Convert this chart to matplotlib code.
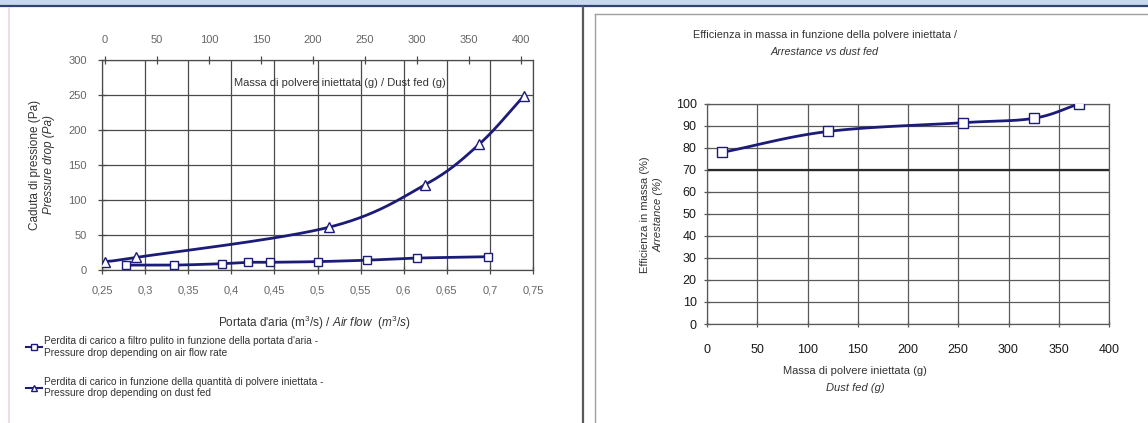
import numpy as np
import matplotlib
matplotlib.use("Agg")
import matplotlib.pyplot as plt
from matplotlib.lines import Line2D
from matplotlib.patches import Rectangle

plt.rcParams['font.family'] = ['Liberation Sans', 'DejaVu Sans']
plt.rcParams['mathtext.fontset'] = 'custom'
plt.rcParams['mathtext.rm'] = 'Liberation Sans'
plt.rcParams['mathtext.it'] = 'Liberation Sans:italic'

# ---------------- data ----------------
airflow = [0.278, 0.334, 0.389, 0.419, 0.445, 0.501, 0.557, 0.615, 0.698]
dp_clean = [7, 7, 9, 11, 11, 12, 14, 17, 19]
dust_fed_left = [0, 30, 215, 308, 360, 403]
dp_dust = [12, 18, 61, 122, 180, 249]
dust_fed_right = [15, 120, 255, 325, 370]
arrestance = [78, 87.5, 91.5, 93.5, 100]

airflow_ticks = [0.25, 0.3, 0.35, 0.4, 0.45, 0.5, 0.55, 0.6, 0.65, 0.7, 0.75]
airflow_ticklabels = ['0,25', '0,3', '0,35', '0,4', '0,45', '0,5', '0,55', '0,6', '0,65', '0,7', '0,75']
dust_ticks = [0, 50, 100, 150, 200, 250, 300, 350, 400]
dp_ticks = [0, 50, 100, 150, 200, 250, 300]
arr_ticks = [0, 10, 20, 30, 40, 50, 60, 70, 80, 90, 100]

legend_labels = [
    "Perdita di carico a filtro pulito in funzione della portata d'aria -\nPressure drop depending on air flow rate",
    "Perdita di carico in funzione della quantità di polvere iniettata -\nPressure drop depending on dust fed",
]

NAVY = '#1c1c78'
GRID = '#4a4a4a'
TICKC = '#666666'


def smooth(x, y, n=30):
    """Catmull-Rom curve through the points (for drawing a smoothed line)."""
    x = np.asarray(x, float)
    y = np.asarray(y, float)
    P = np.column_stack([x, y])
    P = np.vstack([P[0] - (P[1] - P[0]), P, P[-1] + (P[-1] - P[-2])])
    out = []
    t = np.linspace(0, 1, n)[:, None]
    for i in range(1, len(P) - 2):
        p0, p1, p2, p3 = P[i - 1], P[i], P[i + 1], P[i + 2]
        seg = 0.5 * ((2 * p1) + (-p0 + p2) * t + (2 * p0 - 5 * p1 + 4 * p2 - p3) * t ** 2
                     + (-p0 + 3 * p1 - 3 * p2 + p3) * t ** 3)
        out.append(seg)
    c = np.vstack(out)
    return c[:, 0], c[:, 1]


W, H = 1148, 423
fig = plt.figure(figsize=(W / 100, H / 100), dpi=100)


def fx(px):
    return px / W


def fy(py):
    return 1 - py / H


# ---------------- frame decorations ----------------
fig.patches.append(Rectangle((0, fy(5)), 1, 5 / H, transform=fig.transFigure,
                             facecolor='#c8d8ee', edgecolor='none', zorder=0))
fig.add_artist(Line2D([0, 1], [fy(6), fy(6)], color='#2d4372', lw=1.6))
fig.add_artist(Line2D([fx(9), fx(9)], [fy(8), 0], color='#f0d6dc', lw=1.2))
fig.add_artist(Line2D([fx(583), fx(583)], [fy(7), 0], color='#5a5a5a', lw=1.6))
fig.add_artist(Line2D([fx(595), fx(595)], [fy(14), 0], color='#a0a0a0', lw=1.0))
fig.add_artist(Line2D([fx(595), 1], [fy(14), fy(14)], color='#a0a0a0', lw=1.0))

# ---------------- left chart ----------------
axL = fig.add_axes([fx(102), fy(270), fx(533 - 102), (270 - 60) / H])
axL.set_xlim(0.25, 0.75)
axL.set_ylim(0, 300)
axL.set_xticks(airflow_ticks)
axL.set_xticklabels(airflow_ticklabels)
axL.set_yticks(dp_ticks)
axL.grid(True, color=GRID, lw=0.9)
axL.set_axisbelow(True)
for s in axL.spines.values():
    s.set_color(GRID)
    s.set_linewidth(0.9)
axL.tick_params(axis='both', direction='inout', length=6, width=0.9, color=GRID,
                labelsize=8, labelcolor=TICKC, pad=8)

sx, sy = smooth(airflow, dp_clean)
axL.plot(sx, sy, color=NAVY, lw=2, zorder=3)
axL.plot(airflow, dp_clean, ls='none', marker='s', ms=6, mfc='white', mec=NAVY, mew=1, zorder=4)

axT = axL.twiny()
axT.set_xlim(-3, 411.5)
axT.set_xticks(dust_ticks)
axT.tick_params(axis='x', direction='inout', length=6, width=0.9, color=GRID,
                labelsize=8, labelcolor=TICKC, pad=8)
for s in axT.spines.values():
    s.set_visible(False)
tx, ty = smooth(dust_fed_left, dp_dust)
axT.plot(tx, ty, color=NAVY, lw=2, zorder=3)
axT.plot(dust_fed_left, dp_dust, ls='none', marker='^', ms=6.5, mfc='white', mec=NAVY, mew=1, zorder=4)

fig.text(fx(340), fy(83), "Massa di polvere iniettata (g) / Dust fed (g)", ha='center', va='center',
         fontsize=8, color='#333333')
fig.text(fx(35), fy(165), "Caduta di pressione (Pa)", rotation=90, ha='center', va='center',
         fontsize=8.5, color='#333333')
fig.text(fx(49), fy(165), "Pressure drop (Pa)", rotation=90, ha='center', va='center',
         fontsize=8.5, color='#333333', style='italic')
fig.text(fx(314), fy(323), r"Portata d'aria (m$^3$/s) / $\mathit{Air\ flow\ \ (m^3/s)}$", ha='center',
         va='center', fontsize=8.5, color='#333333')

handles = [
    Line2D([], [], color=NAVY, lw=1.5, marker='s', ms=5, mfc='white', mec=NAVY),
    Line2D([], [], color=NAVY, lw=1.5, marker='^', ms=5, mfc='white', mec=NAVY),
]
fig.legend(handles, legend_labels, loc='upper left', bbox_to_anchor=(fx(26), fy(336)),
           frameon=False, fontsize=7.3, handlelength=1.6, handletextpad=0.2,
           labelspacing=1.9, labelcolor='#333333', borderaxespad=0, borderpad=0)

# ---------------- right chart ----------------
axR = fig.add_axes([fx(707), fy(324), fx(1109 - 707), (324 - 104) / H])
axR.set_xlim(0, 400)
axR.set_ylim(0, 100)
axR.set_xticks(dust_ticks)
axR.set_yticks(arr_ticks)
axR.grid(True, color='#5a5a5a', lw=0.9)
axR.set_axisbelow(True)
axR.axhline(70, color='#2a2a2a', lw=1.6, zorder=1)
for s in axR.spines.values():
    s.set_color('#5a5a5a')
    s.set_linewidth(0.9)
axR.tick_params(axis='both', direction='inout', length=5, width=0.9, color='#5a5a5a',
                labelsize=9, labelcolor='#1a1a1a')
axR.tick_params(axis='x', pad=12)
axR.tick_params(axis='y', pad=5)
rx, ry = smooth(dust_fed_right, arrestance)
axR.plot(rx, ry, color=NAVY, lw=2, zorder=3)
axR.plot(dust_fed_right, arrestance, ls='none', marker='s', ms=6.5, mfc='white', mec=NAVY, mew=1, zorder=4)

fig.text(fx(825), fy(35), "Efficienza in massa in funzione della polvere iniettata /", ha='center',
         va='center', fontsize=7.8, color='#333333')
fig.text(fx(825), fy(52), "Arrestance vs dust fed", ha='center', va='center', fontsize=7.8,
         color='#333333', style='italic')
fig.text(fx(645), fy(215), "Efficienza in massa (%)", rotation=90, ha='center', va='center',
         fontsize=8, color='#333333')
fig.text(fx(659), fy(215), "Arrestance (%)", rotation=90, ha='center', va='center',
         fontsize=8, color='#333333', style='italic')
fig.text(fx(855), fy(371), "Massa di polvere iniettata (g)", ha='center', va='center',
         fontsize=8, color='#333333')
fig.text(fx(855), fy(388), "Dust fed (g)", ha='center', va='center', fontsize=8,
         color='#333333', style='italic')

fig.savefig('out.png', dpi=100)
